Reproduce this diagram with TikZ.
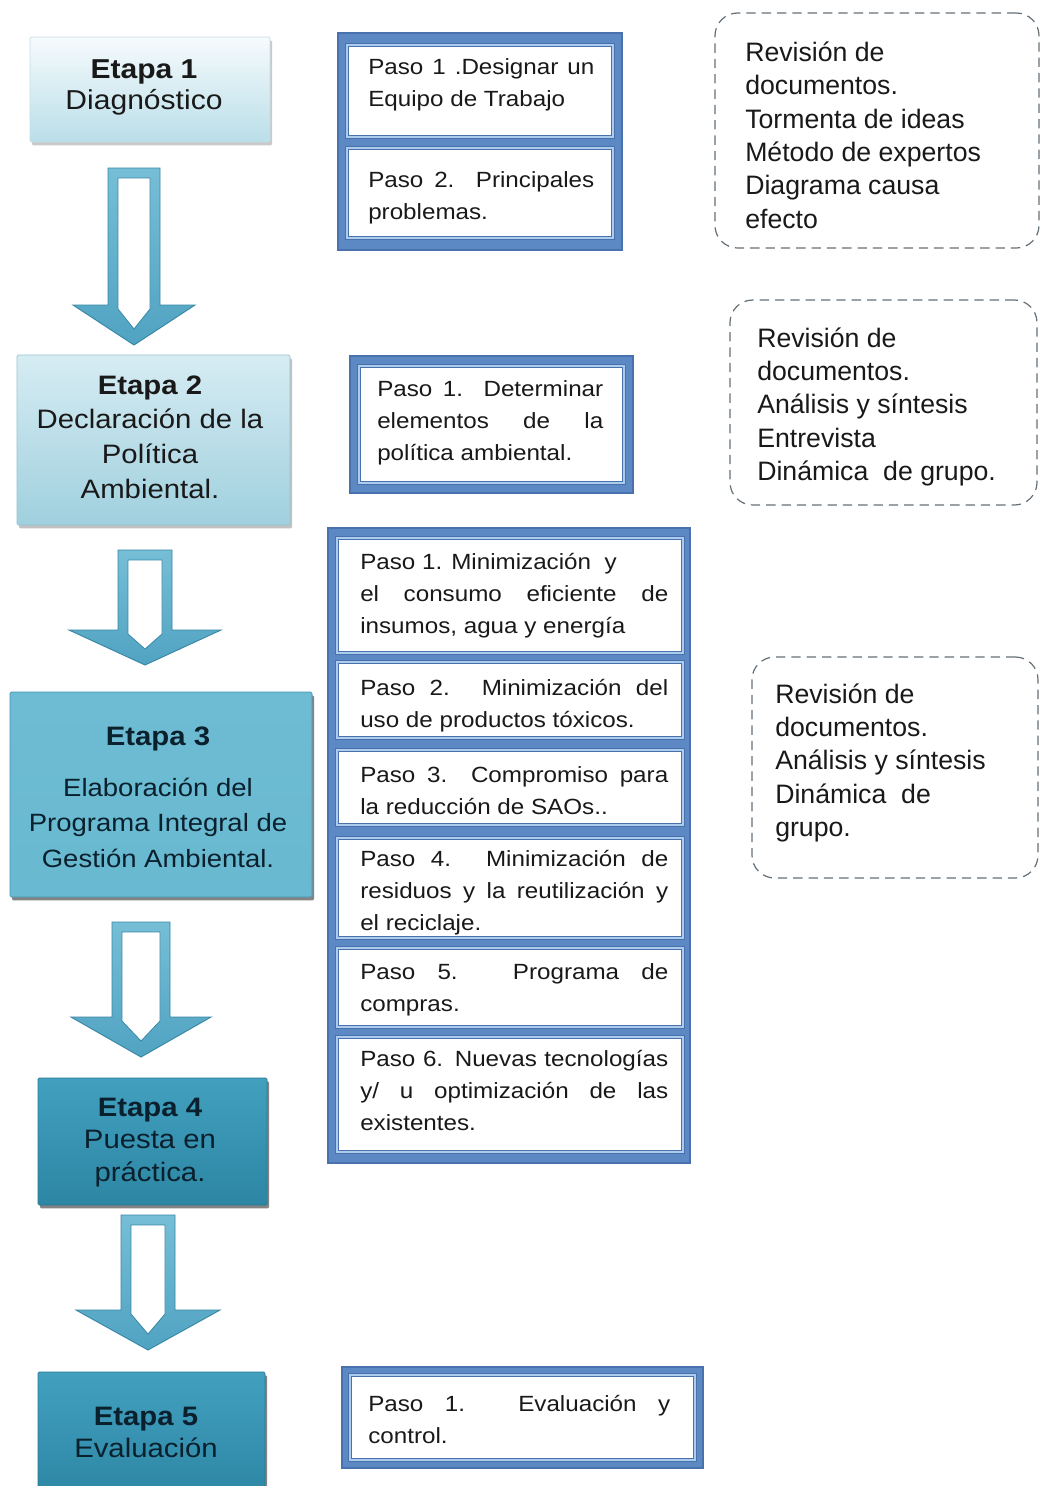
\documentclass[tikz,border=0pt]{standalone}
\usepackage{fontspec}
\setmainfont{Liberation Sans}
\newfontfamily\pasof{Liberation Sans}[FakeStretch=1.1]
\newfontfamily\etapaf{Liberation Sans}[FakeStretch=1.1]
\newfontfamily\dashf{Liberation Sans}
\usetikzlibrary{shadows}
\newcommand\jl[2]{\makebox[#1][s]{#2}}
\definecolor{stepband}{RGB}{92,137,196}
\definecolor{stepdark}{RGB}{72,113,174}
\definecolor{steplight}{RGB}{172,204,237}
\definecolor{arrowfill}{RGB}{80,163,194}
\definecolor{arrowedge}{RGB}{55,135,165}
\definecolor{dashgrey}{RGB}{100,112,120}
\definecolor{txt}{RGB}{25,25,25}
\definecolor{txtdark}{RGB}{10,32,45}
% box node from corner coordinates (px)
\newcommand\boxnode[6]{\node[#1, minimum width={(#4-#2)*0.75pt}, minimum height={(#5-#3)*0.75pt}] (#6) at ({(#2+#4)/2},{(#3+#5)/2}) {};}
% block arrow: name, cx, top, headbase, tip, shaft half width, head half width
\newcommand\blockarrow[7]{%
  \coordinate (#1) at (#2,#3);
  \path[arrowout] (#2-#6,#3) -- (#2+#6,#3) -- (#2+#6,#4) -- (#2+#7,#4) -- (#2,#5) -- (#2-#7,#4) -- (#2-#6,#4) -- cycle;
  \path[arrowin] (#2-#6+10,#3+10) -- (#2+#6-10,#3+10) -- (#2+#6-10,#4+4) -- (#2,#5-16) -- (#2-#6+10,#4+4) -- cycle;
}
\tikzset{
  bx/.style={inner sep=0pt, outer sep=0pt},
  etA/.style={bx, top color={rgb,255:red,246;green,251;blue,253}, bottom color={rgb,255:red,186;green,222;blue,233}, draw={rgb,255:red,196;green,222;blue,230}, line width=0.6pt, rounded corners=1pt,
    drop shadow={shadow xshift=1.5pt, shadow yshift=-2.5pt, opacity=0.35, fill=black!60}},
  etB/.style={bx, top color={rgb,255:red,214;green,236;blue,243}, bottom color={rgb,255:red,160;green,208;blue,222}, draw={rgb,255:red,150;green,196;blue,212}, line width=0.6pt, rounded corners=1pt,
    drop shadow={shadow xshift=1.5pt, shadow yshift=-2.5pt, opacity=0.4, fill=black!60}},
  etC/.style={bx, top color={rgb,255:red,110;green,188;blue,211}, middle color={rgb,255:red,64;green,166;blue,199}, bottom color={rgb,255:red,104;green,185;blue,209}, draw={rgb,255:red,70;green,150;blue,178}, line width=0.6pt, rounded corners=1pt,
    drop shadow={shadow xshift=1.5pt, shadow yshift=-2.5pt, opacity=0.6, fill=black!80}},
  etD/.style={bx, top color={rgb,255:red,66;green,160;blue,190}, bottom color={rgb,255:red,44;green,134;blue,164}, draw={rgb,255:red,40;green,120;blue,148}, line width=0.6pt, rounded corners=1pt,
    drop shadow={shadow xshift=1.5pt, shadow yshift=-2.5pt, opacity=0.6, fill=black!80}},
  band/.style={bx, fill=stepband, draw=stepdark, line width=0.8pt},
  stepbox/.style={bx, fill=white, draw=stepdark, line width=0.6pt, double=steplight, double distance=1.6pt},
  dashbox/.style={bx, draw=dashgrey, line width=0.9pt, dash pattern=on 7pt off 4.5pt, rounded corners=17pt},
  arrowout/.style={top color={rgb,255:red,118;green,190;blue,214}, bottom color=arrowfill, draw=arrowedge, line width=0.7pt, line join=miter},
  arrowin/.style={fill=white, draw=arrowedge, line width=0.6pt},
  etxt/.style={inner sep=0pt, align=center, anchor=north, text=txt, font=\etapaf\fontsize{20}{26}\selectfont},
  ptxt/.style={inner sep=0pt, align=left, anchor=north west, text=txt, font=\pasof\fontsize{16.5}{24}\selectfont},
  dtxt/.style={inner sep=0pt, align=left, anchor=north west, text=txt, font=\dashf\fontsize{20}{25}\selectfont},
}
\begin{document}
\begin{tikzpicture}[x=0.75pt, y=-0.75pt]
\path[use as bounding box] (0,0) rectangle (1043,1486);
\clip (0,0) rectangle (1043,1486);
\fill[white] (0,0) rectangle (1043,1486);

% ---------- Etapa boxes ----------
\boxnode{etA}{30}{37}{270}{142}{e1}
\boxnode{etB}{17}{355}{290}{525}{e2}
\boxnode{etC}{10}{692}{312}{897}{e3}
\boxnode{etD}{38}{1078}{267}{1205}{e4}
\boxnode{etD}{38}{1372}{265}{1500}{e5}

\node[etxt, font=\etapaf\fontsize{20.5}{23}\selectfont] (e1t) at (144,57) {\strut\textbf{Etapa 1}\\Diagnóstico};
\node[etxt] (e2t) at (150,369.7) {\strut\textbf{Etapa 2}\\Declaración de la\\Política\\Ambiental.};
\node[etxt, anchor=base, text=txtdark] (e3ta) at (158,745) {\textbf{Etapa 3}};
\node[etxt, text=txtdark, font=\etapaf\fontsize{18.75}{26.6}\selectfont] (e3tb) at (158,771) {\strut Elaboración del\\Programa Integral de\\Gestión Ambiental.};
\node[etxt, text=txtdark, font=\etapaf\fontsize{20}{24.5}\selectfont] (e4t) at (150,1093) {\strut\textbf{Etapa 4}\\Puesta en\\práctica.};
\node[etxt, text=txtdark, font=\etapaf\fontsize{20}{24.5}\selectfont] (e5t) at (146,1402) {\strut\textbf{Etapa 5}\\Evaluación};

% ---------- Block arrows ----------
\blockarrow{a1}{134}{168}{305}{345}{26}{61}
\blockarrow{a2}{145}{550}{630}{665}{27}{76}
\blockarrow{a3}{141}{922}{1017}{1057}{29}{70}
\blockarrow{a4}{148}{1215}{1310}{1350}{27}{72}

% ---------- Paso groups ----------
\boxnode{band}{338}{33}{622}{250}{g1}
\boxnode{stepbox}{347}{45}{613}{137}{p11}
\boxnode{stepbox}{347}{148}{613}{238}{p12}
\node[ptxt] (p11t) at (368,51.6) {\strut\jl{169.5pt}{Paso 1 .Designar un}\\Equipo de Trabajo};
\node[ptxt] (p12t) at (368,164.6) {\strut\jl{169.5pt}{Paso 2. Principales}\\problemas.};

\boxnode{band}{350}{356}{633}{493}{g2}
\boxnode{stepbox}{359}{366}{624}{483}{p21}
\node[ptxt] (p21t) at (377,373.6) {\strut\jl{169.5pt}{Paso 1. Determinar}\\\jl{169.5pt}{elementos de la}\\política ambiental.};

\boxnode{band}{328}{528}{690}{1163}{g3}
\boxnode{stepbox}{337}{538}{683}{653}{p31}
\boxnode{stepbox}{337}{662}{683}{738}{p32}
\boxnode{stepbox}{337}{750}{683}{825}{p33}
\boxnode{stepbox}{337}{838}{683}{938}{p34}
\boxnode{stepbox}{337}{948}{683}{1027}{p35}
\boxnode{stepbox}{337}{1037}{683}{1152}{p36}
\node[ptxt] (p31t) at (360,546.6) {\strut Paso 1. Minimización\ \ y\\\jl{231pt}{el consumo eficiente de}\\insumos, agua y energía};
\node[ptxt] (p32t) at (360,672.6) {\strut\jl{231pt}{Paso 2. Minimización del}\\uso de productos tóxicos.};
\node[ptxt] (p33t) at (360,759.6) {\strut\jl{231pt}{Paso 3. Compromiso para}\\la reducción de SAOs..};
\node[ptxt] (p34t) at (360,843.6) {\strut\jl{231pt}{Paso 4. Minimización de}\\\jl{231pt}{residuos y la reutilización y}\\el reciclaje.};
\node[ptxt] (p35t) at (360,956.6) {\strut\jl{231pt}{Paso 5. Programa de}\\compras.};
\node[ptxt] (p36t) at (360,1043.6) {\strut\jl{231pt}{Paso 6. Nuevas tecnologías}\\\jl{231pt}{y/ u optimización de las}\\existentes.};

\boxnode{band}{342}{1367}{703}{1468}{g5}
\boxnode{stepbox}{350}{1375}{695}{1460}{p51}
\node[ptxt] (p51t) at (368,1388.6) {\strut\jl{226.5pt}{Paso 1. Evaluación y}\\control.};

% ---------- Dashed method boxes ----------
\boxnode{dashbox}{715}{13}{1039}{248}{d1}
\boxnode{dashbox}{730}{300}{1037}{505}{d2}
\boxnode{dashbox}{752}{657}{1038}{878}{d3}
\node[dtxt] (d1t) at (745,38) {\strut Revisión de\\documentos.\\Tormenta de ideas\\Método de expertos\\Diagrama causa\\efecto};
\node[dtxt] (d2t) at (757,323.7) {\strut Revisión de\\documentos.\\Análisis y síntesis\\Entrevista\\Dinámica\ \ de grupo.};
\node[dtxt] (d3t) at (775,679.7) {\strut Revisión de\\documentos.\\Análisis y síntesis\\Dinámica\ \ de\\grupo.};
\end{tikzpicture}
\end{document}
